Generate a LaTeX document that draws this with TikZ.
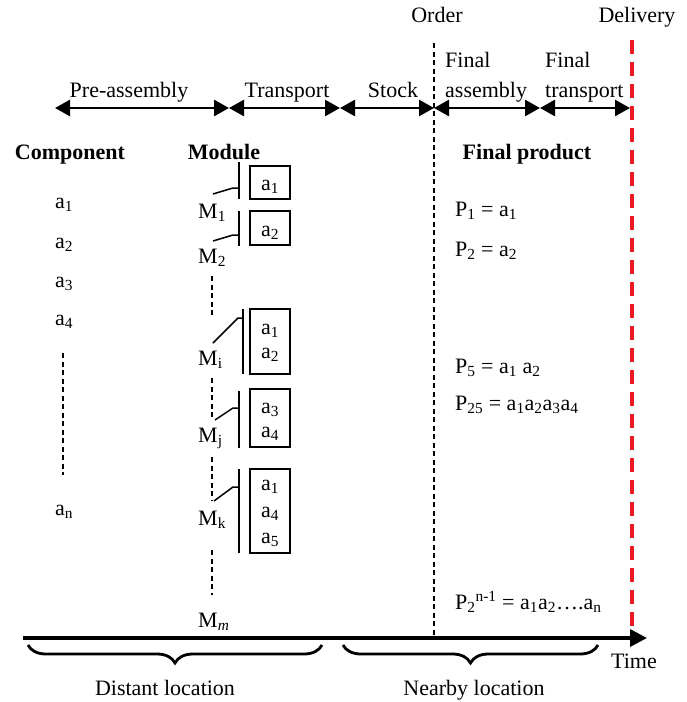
\documentclass[tikz,border=0pt]{standalone}
\usepackage{fontspec}
\setmainfont{Liberation Serif}
\usetikzlibrary{arrows.meta,decorations.pathreplacing}
\definecolor{dred}{RGB}{235,25,35}
\begin{document}
\begin{tikzpicture}[x=1pt,y=-1pt,
  lbl/.style={font=\fontsize{22}{26}\selectfont, inner sep=0pt, anchor=base},
  lblw/.style={lbl, anchor=base west},
  hdr/.style={lbl, font=\fontsize{22}{26}\selectfont\bfseries},
  phase/.style={line width=2.6pt, {Triangle[length=15pt,width=16pt]}-{Triangle[length=15pt,width=16pt]}},
  odash/.style={line width=1.3pt, dash pattern=on 5pt off 3.5pt},
  rdash/.style={line width=4pt, dred, dash pattern=on 14pt off 8pt},
  mbox/.style={draw, line width=1.4pt, minimum width=40pt, inner sep=0pt},
  bar/.style={line width=1.8pt},
  slant/.style={line width=1.5pt},
  axis/.style={line width=3.5pt, -{Triangle[length=17pt,width=17pt]}},
  bracestyle/.style={line width=2.8pt, decorate, decoration={brace, mirror, amplitude=18pt}}
]
\useasboundingbox (0,0) rectangle (686,702);

% top labels
\node[lbl] (order) at (437,22) {Order};
\node[lbl] (deliv) at (637,22) {Delivery};

% vertical lines
\coordinate (o1) at (434,43);
\coordinate (o2) at (434,638);
\draw[odash] (o1) -- (o2);
\coordinate (r1) at (632,40);
\coordinate (r2) at (632,638);
\draw[rdash] (r1) -- (r2);

% phase arrows
\coordinate (t0) at (55,108);
\coordinate (t1) at (229,108);
\coordinate (t2) at (340,108);
\coordinate (t3) at (434,108);
\coordinate (t4) at (540,108);
\coordinate (t5) at (630,108);
\draw[phase] (t0) -- (t1);
\draw[phase] (t1) -- (t2);
\draw[phase] (t2) -- (t3);
\draw[phase] (t3) -- (t4);
\draw[phase] (t4) -- (t5);

\node[lbl] (pre) at (129,97) {Pre-assembly};
\node[lbl] (tra) at (287,97) {Transport};
\node[lbl] (sto) at (393,97) {Stock};
\node[lblw] (fa1) at (445,67) {Final};
\node[lblw] (fa2) at (445,97) {assembly};
\node[lblw] (ft1) at (545,67) {Final};
\node[lblw] (ft2) at (545,97) {transport};

% headers
\node[hdr] (hc) at (70,159) {Component};
\node[hdr] (hm) at (224,159) {Module};
\node[hdr] (hp) at (527,159) {Final product};

% components
\node[lblw] (c1) at (55,208) {a\textsubscript{1}};
\node[lblw] (c2) at (55,248) {a\textsubscript{2}};
\node[lblw] (c3) at (55,287) {a\textsubscript{3}};
\node[lblw] (c4) at (55,325) {a\textsubscript{4}};
\node[lblw] (cn) at (55,515) {a\textsubscript{n}};
\coordinate (cd1) at (63,353);
\coordinate (cd2) at (63,475);
\draw[odash] (cd1) -- (cd2);

% module labels
\node[lblw] (m1) at (198,218) {M\textsubscript{1}};
\node[lblw] (m2) at (198,263) {M\textsubscript{2}};
\node[lblw] (mi) at (198,365) {M\textsubscript{i}};
\node[lblw] (mj) at (198,442) {M\textsubscript{j}};
\node[lblw] (mk) at (198,525) {M\textsubscript{k}};
\node[lblw] (mm) at (198,627) {M\textsubscript{\textit{m}}};

% module dashed lines
\coordinate (d1a) at (212,276); \coordinate (d1b) at (212,318);
\coordinate (d2a) at (212,378); \coordinate (d2b) at (212,420);
\coordinate (d3a) at (212,457); \coordinate (d3b) at (212,500);
\coordinate (d4a) at (212,550); \coordinate (d4b) at (212,595);
\draw[odash] (d1a) -- (d1b);
\draw[odash] (d2a) -- (d2b);
\draw[odash] (d3a) -- (d3b);
\draw[odash] (d4a) -- (d4b);

% boxes
\node[mbox, minimum height=33pt] (b1) at (270,182.5) {};
\node[mbox, minimum height=34pt] (b2) at (270,228) {};
\node[mbox, minimum height=65pt] (bi) at (270,341.5) {};
\node[mbox, minimum height=58pt] (bj) at (270,418) {};
\node[mbox, minimum height=84pt] (bk) at (270,511) {};

\node[lbl] (e11) at (270,190) {a\textsubscript{1}};
\node[lbl] (e21) at (270,236) {a\textsubscript{2}};
\node[lbl] (ei1) at (270,334) {a\textsubscript{1}};
\node[lbl] (ei2) at (270,358) {a\textsubscript{2}};
\node[lbl] (ej1) at (270,413) {a\textsubscript{3}};
\node[lbl] (ej2) at (270,437) {a\textsubscript{4}};
\node[lbl] (ek1) at (270,490) {a\textsubscript{1}};
\node[lbl] (ek2) at (270,517) {a\textsubscript{4}};
\node[lbl] (ek3) at (270,543) {a\textsubscript{5}};

% bars
\coordinate (bar1a) at (239,162); \coordinate (bar1b) at (239,199);
\coordinate (bar2a) at (239,211); \coordinate (bar2b) at (239,246);
\coordinate (bar3a) at (243,309); \coordinate (bar3b) at (243,374);
\coordinate (bar4a) at (239,391); \coordinate (bar4b) at (239,448);
\coordinate (bar5a) at (239,469); \coordinate (bar5b) at (239,553);
\draw[bar] (bar1a) -- (bar1b);
\draw[bar] (bar2a) -- (bar2b);
\draw[bar] (bar3a) -- (bar3b);
\draw[bar] (bar4a) -- (bar4b);
\draw[bar] (bar5a) -- (bar5b);

% slants
\coordinate (s1) at (213,194); \coordinate (s1e) at (239,188);
\coordinate (s2) at (213,241); \coordinate (s2e) at (239,235);
\coordinate (s3) at (213,343); \coordinate (s3e) at (243,318);
\coordinate (s4) at (215,420); \coordinate (s4e) at (239,408);
\coordinate (s5) at (214,501); \coordinate (s5e) at (239,487);
\draw[slant] (s1) -- (233,188) -- (s1e);
\draw[slant] (s2) -- (233,235) -- (s2e);
\draw[slant] (s3) -- (238,318) -- (s3e);
\draw[slant] (s4) -- (233,408) -- (s4e);
\draw[slant] (s5) -- (233,487) -- (s5e);

% final products
\node[lblw] (p1) at (455,216) {P\textsubscript{1} = a\textsubscript{1}};
\node[lblw] (p2) at (455,256) {P\textsubscript{2} = a\textsubscript{2}};
\node[lblw] (p5) at (455,373) {P\textsubscript{5} = a\textsubscript{1} a\textsubscript{2}};
\node[lblw] (p25) at (455,410) {P\textsubscript{25} = a\textsubscript{1}a\textsubscript{2}a\textsubscript{3}a\textsubscript{4}};
\node[lblw] (pn) at (455,609) {P\textsubscript{2}\textsuperscript{n-1} = a\textsubscript{1}a\textsubscript{2}….a\textsubscript{n}};

% time axis
\coordinate (ax0) at (23,638);
\coordinate (ax1) at (647,638);
\draw[axis] (ax0) -- (ax1);
\node[lbl] (time) at (634,668) {Time};

% braces
\coordinate (br1a) at (28,645); \coordinate (br1b) at (322,645);
\coordinate (br2a) at (343,645); \coordinate (br2b) at (598,645);
\draw[bracestyle] (br1a) -- (br1b);
\draw[bracestyle] (br2a) -- (br2b);
\node[lbl] (dist) at (165,695) {Distant location};
\node[lbl] (near) at (474,695) {Nearby location};
\end{tikzpicture}
\end{document}
